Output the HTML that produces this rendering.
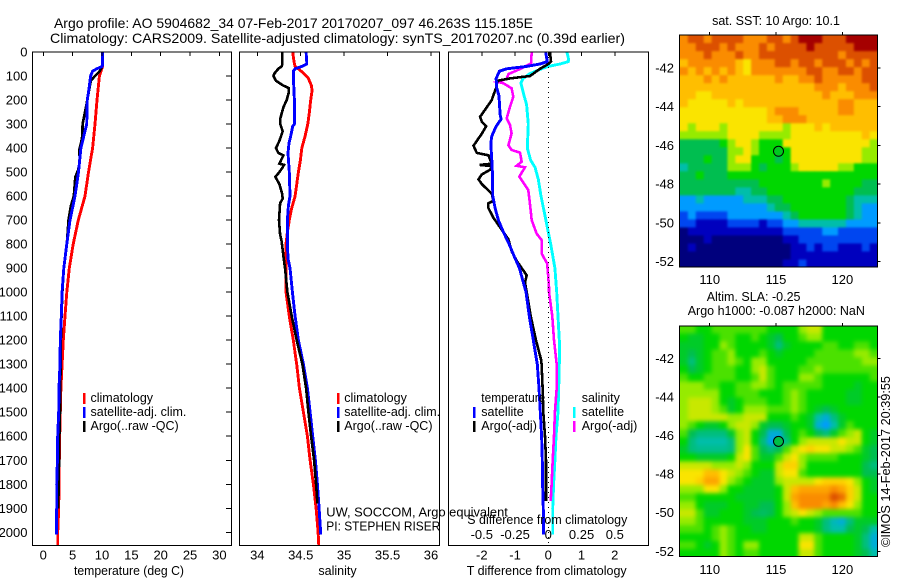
<!DOCTYPE html>
<html lang="en">
<head>
<meta charset="utf-8">
<title>Argo profile 5904682_34</title>
<style>
html,body{margin:0;padding:0;background:#fff;}
svg{display:block;}
text{font-family:"Liberation Sans",sans-serif;font-size:12.5px;fill:#000;}
.title{font-size:14px;}
.tick{font-size:13px;}
.leg{font-size:12.5px;}
</style>
</head>
<body>
<svg id="chart" xmlns="http://www.w3.org/2000/svg" width="900" height="580" viewBox="0 0 900 580">
  <defs>
    <clipPath id="clip-sst"><rect x="680" y="35" width="197.5" height="232"/></clipPath>
    <clipPath id="clip-sla"><rect x="680" y="326" width="197.5" height="230.5"/></clipPath>
    <filter id="soft-sst" filterUnits="userSpaceOnUse" x="650" y="5" width="250" height="290" color-interpolation-filters="sRGB"><feGaussianBlur stdDeviation="1.1"/></filter>
    <filter id="soft-sla" filterUnits="userSpaceOnUse" x="650" y="296" width="250" height="290" color-interpolation-filters="sRGB"><feGaussianBlur stdDeviation="2.2"/></filter>
  </defs>
  <text class="title" x="54" y="28" textLength="479" lengthAdjust="spacingAndGlyphs">Argo profile: AO 5904682_34 07-Feb-2017 20170207_097 46.263S 115.185E</text>
  <text class="title" x="50" y="43" textLength="575" lengthAdjust="spacingAndGlyphs">Climatology: CARS2009. Satellite-adjusted climatology: synTS_20170207.nc (0.39d earlier)</text>

  <g id="maps">
    <g clip-path="url(#clip-sst)"><g id="sst-cells" filter="url(#soft-sst)"></g></g>
    <g clip-path="url(#clip-sla)"><g id="sla-cells" filter="url(#soft-sla)"></g></g>
  </g>
  <g id="series"></g>
  <g id="frames"></g>

  <line x1="548.5" y1="52" x2="548.5" y2="545.5" stroke="#000" stroke-width="1" stroke-dasharray="1 4"/>

  <text x="129" y="575" text-anchor="middle" textLength="110" lengthAdjust="spacingAndGlyphs">temperature (deg C)</text>
  <text x="337.5" y="575" text-anchor="middle">salinity</text>
  <text x="546.7" y="575" text-anchor="middle" textLength="160" lengthAdjust="spacingAndGlyphs">T difference from climatology</text>
  <text x="467.3" y="524" textLength="160" lengthAdjust="spacingAndGlyphs">S difference from climatology</text>

  <g>
    <rect x="83" y="393" width="2.5" height="11" fill="#f00"/>
    <rect x="83" y="407" width="2.5" height="11" fill="#00f"/>
    <rect x="83" y="421" width="2.5" height="11" fill="#000"/>
    <text class="leg" x="90.5" y="402">climatology</text>
    <text class="leg" x="90.5" y="416">satellite-adj. clim.</text>
    <text class="leg" x="90.5" y="430">Argo(..raw -QC)</text>
  </g>
  <g>
    <rect x="337" y="393" width="2.5" height="11" fill="#f00"/>
    <rect x="337" y="407" width="2.5" height="11" fill="#00f"/>
    <rect x="337" y="421" width="2.5" height="11" fill="#000"/>
    <text class="leg" x="344.3" y="402">climatology</text>
    <text class="leg" x="344.3" y="416">satellite-adj. clim.</text>
    <text class="leg" x="344.3" y="430">Argo(..raw -QC)</text>
  </g>
  <g>
    <text class="leg" x="481.3" y="402" textLength="64" lengthAdjust="spacingAndGlyphs">temperature</text>
    <rect x="473" y="407" width="2.5" height="11" fill="#00f"/>
    <rect x="473" y="421" width="2.5" height="11" fill="#000"/>
    <text class="leg" x="481.3" y="416">satellite</text>
    <text class="leg" x="481.3" y="430">Argo(-adj)</text>
    <text class="leg" x="581.7" y="402">salinity</text>
    <rect x="573" y="407" width="2.5" height="11" fill="#0ff"/>
    <rect x="573" y="421" width="2.5" height="11" fill="#f0f"/>
    <text class="leg" x="581.7" y="416">satellite</text>
    <text class="leg" x="581.7" y="430">Argo(-adj)</text>
  </g>
  <text class="leg" x="326.3" y="516.5" textLength="181.5" lengthAdjust="spacingAndGlyphs">UW, SOCCOM, Argo equivalent</text>
  <text class="leg" x="326.3" y="530.5" textLength="114" lengthAdjust="spacingAndGlyphs">PI: STEPHEN RISER</text>

  <text x="776" y="25" text-anchor="middle">sat. SST: 10 Argo: 10.1</text>
  <text x="706.7" y="301">Altim. SLA: -0.25</text>
  <text x="687.7" y="315">Argo h1000: -0.087 h2000: NaN</text>
  <text transform="translate(890,547) rotate(-90)" textLength="171" lengthAdjust="spacingAndGlyphs">©IMOS 14-Feb-2017 20:39:55</text>
</svg>

<script>
// ---------- profile data ----------
const depthTicks = [0,100,200,300,400,500,600,700,800,900,1000,1100,1200,1300,1400,1500,1600,1700,1800,1900,2000];
const tempTicks = [0,5,10,15,20,25,30];
const salTicks = [34,34.5,35,35.5,36];
const tDiffTicks = [-2,-1,0,1,2];
const sDiffTicks = [-0.5,-0.25,0,0.25,0.5];
const latTicks = [-42,-44,-46,-48,-50,-52];
const lonTicks = [110,115,120];

const tempClimDepth = [0,60,100,200,300,400,500,600,700,800,900,1000,1100,1200,1300,1400,1500,1600,1700,1800,1900,2000,2056];
const tempClim = [10.1,10.1,9.55,9.15,8.8,8.4,7.7,7.1,5.96,5.1,4.43,4.0,3.7,3.4,3.2,3.0,2.9,2.8,2.72,2.67,2.62,2.45,2.45];
const tempArgoDepth = [0,60,80,100,120,200,250,300,350,380,410,440,470,490,520,600,640,700,800,900,1000,1100,1200,1300,1400,1500,1600,1700,1800,1900];
const tempArgo = [10.1,10.05,9.6,8.8,8.1,7.5,7.1,6.7,6.65,6.4,6.1,6.2,6.1,5.95,5.45,5.2,4.7,4.3,4.0,3.5,3.25,3.1,3.0,2.95,2.9,2.85,2.75,2.7,2.6,2.55];
const tempSatDepth = [0,60,70,80,100,150,200,300,350,400,450,500,600,700,800,900,1000,1100,1200,1300,1400,1500,1600,1700,1800,1900,2010];
const tempSat = [10.1,10.05,9.1,8.4,8.05,7.8,7.5,7.4,6.9,6.4,6.2,6.0,5.4,4.55,4.0,3.5,3.2,3.07,2.9,2.85,2.67,2.62,2.45,2.4,2.28,2.28,2.25];

const salClimDepth = [0,40,60,70,90,110,140,160,200,250,300,350,400,450,500,600,650,700,750,800,900,1000,1100,1200,1300,1400,1500,1600,1700,1800,1900,2000,2056];
const salClim = [34.408,34.423,34.435,34.473,34.538,34.588,34.623,34.631,34.615,34.60,34.581,34.55,34.512,34.496,34.473,34.435,34.396,34.369,34.346,34.331,34.331,34.331,34.369,34.415,34.454,34.485,34.531,34.577,34.608,34.646,34.677,34.70,34.708];
const salSatDepth = [0,40,50,60,70,80,100,200,300,310,350,380,420,500,600,640,700,800,860,900,1000,1100,1200,1300,1400,1500,1600,1700,1800,1900,2010];
const salSat = [34.562,34.569,34.569,34.512,34.435,34.415,34.415,34.427,34.427,34.408,34.385,34.365,34.354,34.369,34.377,34.358,34.346,34.346,34.354,34.377,34.404,34.435,34.473,34.531,34.577,34.608,34.638,34.669,34.692,34.712,34.731];
const salArgoDepth = [0,50,60,70,90,100,120,140,150,170,200,230,280,300,330,370,400,420,430,465,470,480,500,520,550,590,610,630,700,760,790,850,900,1000,1100,1200,1300,1400,1500,1600,1700,1800,1880];
const salArgo = [34.288,34.288,34.281,34.242,34.196,34.185,34.215,34.30,34.362,34.362,34.338,34.30,34.262,34.265,34.292,34.254,34.215,34.242,34.30,34.254,34.308,34.292,34.254,34.208,34.254,34.285,34.292,34.262,34.25,34.262,34.281,34.30,34.319,34.346,34.396,34.454,34.519,34.562,34.588,34.619,34.654,34.677,34.692];

const tDiffSatDepth = [0,40,50,60,70,80,90,110,150,180,210,260,280,310,350,380,450,500,600,650,700,750,800,850,900,950,1000,1100,1200,1300,1400,1500,1600,1700,1800,1900,2010];
const tDiffSat = [-0.08,-0.03,-0.25,-0.65,-1.25,-1.47,-1.5,-1.57,-1.55,-1.49,-1.47,-1.45,-1.42,-1.57,-1.7,-1.73,-1.7,-1.68,-1.67,-1.6,-1.5,-1.35,-1.18,-1.03,-0.87,-0.77,-0.67,-0.57,-0.45,-0.33,-0.28,-0.24,-0.2,-0.18,-0.17,-0.15,-0.14];
const tDiffArgoDepth = [0,40,50,70,100,110,120,150,180,200,230,270,290,310,340,370,390,420,430,465,470,475,490,510,530,550,570,590,620,630,650,690,720,750,780,830,870,900,930,960,1000,1100,1200,1280,1300,1400,1500,1600,1700,1800,1870];
const tDiffArgo = [0.05,0.08,0,-0.25,-0.55,-1.15,-1.53,-1.57,-1.65,-1.7,-1.85,-2.05,-2.0,-1.87,-2.0,-2.15,-2.25,-2.15,-1.8,-1.7,-2.07,-1.7,-1.75,-2.0,-2.1,-2.0,-1.85,-1.7,-1.65,-1.8,-1.8,-1.65,-1.5,-1.35,-1.2,-1.1,-0.95,-0.8,-0.65,-0.7,-0.65,-0.53,-0.37,-0.22,-0.2,-0.17,-0.15,-0.1,-0.07,-0.07,-0.07];
const sDiffSatDepth = [0,30,40,50,60,70,90,110,130,170,220,300,400,450,480,530,600,700,800,900,1000,1100,1200,1300,1400,1500,1600,1700,1800,1900,2010];
const sDiffSat = [0.14,0.153,0.15,0.088,0,-0.05,-0.138,-0.188,-0.206,-0.188,-0.163,-0.15,-0.158,-0.133,-0.1,-0.075,-0.055,-0.018,0.018,0.05,0.063,0.073,0.083,0.083,0.078,0.073,0.058,0.05,0.04,0.033,0.033];
const sDiffArgoDepth = [0,47,68,92,112,124,130,151,186,228,276,304,339,388,408,419,457,474,480,519,575,631,700,756,783,839,881,978,1000,1100,1200,1300,1400,1500,1600,1700,1800,1870];
const sDiffArgo = [-0.125,-0.13,-0.2,-0.3,-0.313,-0.383,-0.338,-0.276,-0.263,-0.288,-0.313,-0.288,-0.276,-0.3,-0.276,-0.213,-0.2,-0.238,-0.175,-0.218,-0.15,-0.138,-0.125,-0.088,-0.05,-0.05,-0.008,0.005,0.005,0.03,0.043,0.063,0.063,0.05,0.043,0.033,0.025,0.018];

// ---------- map data (colour-level estimates) ----------
const sstLevels = [
[10,11,11,10,11,11,11,11,10,10,10,11,11,10,11,12,12,12,11,11,11,12,12,12,12],
[10,10,11,11,11,10,11,10,10,10,11,10,11,11,11,11,12,11,11,11,11,11,12,12,12],
[10,10,10,11,10,10,10,11,10,10,11,11,11,11,11,11,11,11,11,11,10,11,11,11,11],
[9,10,10,10,10,10,10,9,8,10,10,10,11,11,10,11,11,10,11,11,11,10,11,10,11],
[10,9,10,9,10,9,10,9,8,10,10,10,10,10,10,10,11,11,10,10,11,11,10,11,11],
[9,9,9,10,9,10,9,9,9,9,9,9,10,9,9,10,10,11,10,10,10,10,10,11,11],
[9,9,9,9,9,9,9,9,9,9,9,9,9,9,9,9,9,10,10,10,9,10,10,10,11],
[9,9,8,8,9,9,9,9,9,9,9,9,9,9,9,9,9,9,10,9,9,9,10,10,10],
[9,8,8,8,8,8,9,8,9,9,9,9,9,9,9,9,9,9,9,9,10,10,9,9,9],
[8,8,8,8,8,8,8,8,8,8,8,9,10,10,10,9,9,9,9,9,10,10,9,9,9],
[8,8,8,8,8,8,8,8,8,8,8,9,9,10,10,10,9,9,9,9,9,9,9,9,9],
[8,7,8,8,8,7,8,8,8,8,8,8,8,7,8,8,8,9,8,9,9,9,9,9,9],
[7,7,7,7,7,7,8,8,8,8,7,7,7,7,8,8,8,8,8,8,8,8,8,9,8],
[5,5,5,5,5,6,7,8,8,7,6,6,6,8,8,8,8,8,8,8,8,8,8,8,7],
[5,5,5,5,5,5,7,7,8,7,6,6,6,6,8,8,8,8,8,8,8,8,8,7,7],
[5,5,5,6,5,5,7,8,8,6,6,6,5,6,8,8,8,8,8,8,8,8,8,7,7],
[4,5,5,5,5,5,7,7,7,6,5,6,6,6,7,8,8,8,8,8,7,7,6,6,6],
[5,5,6,5,5,5,6,6,6,6,6,6,6,6,6,6,6,6,6,6,6,6,6,6,6],
[5,5,5,5,5,5,5,5,5,5,6,6,6,6,6,6,6,6,7,6,6,6,6,5,5],
[5,5,5,5,5,5,5,4,4,5,5,6,6,6,6,6,6,6,6,6,6,6,5,5,5],
[3,3,4,3,3,3,3,3,4,4,4,5,5,6,6,6,6,6,6,6,6,5,4,4,4],
[3,3,3,3,3,3,3,3,3,3,3,4,5,5,6,6,6,6,6,6,6,5,4,3,3],
[2,3,2,2,2,2,3,3,3,3,3,3,3,4,5,6,6,6,6,6,6,5,4,3,3],
[2,2,1,1,1,1,2,2,2,2,1,2,2,3,3,4,4,4,4,4,4,3,3,3,3],
[0,1,1,1,1,1,1,1,1,1,1,1,1,2,2,2,2,2,3,3,2,2,2,2,2],
[0,0,0,1,0,0,0,0,0,0,0,0,0,1,1,2,2,2,2,2,2,2,2,2,2],
[0,1,0,0,0,0,0,0,0,0,0,0,0,0,1,1,2,1,2,2,1,1,1,2,1],
[0,0,0,0,0,0,0,0,0,0,0,0,0,0,1,1,1,1,1,1,1,1,1,1,1],
[0,0,0,0,0,0,0,0,0,0,0,0,0,1,1,2,1,1,1,1,1,1,1,1,1]
];
const slaLevels = [
[6.5,6.5,6,6,6.5,6.5,6.5,6.5,6.5,6.5,6.5,6,6,6,6,7,7.5,7.5,6,6,6,6,6,6,6],
[6,5.5,5.5,6,6,6.5,6.5,6,6,6.5,6,5.5,5,6,6,6.5,7,7,6,6,6,6,6,6,6],
[5.5,5.5,5.5,6,6,7,6.5,6,6,6,6,5.5,4.5,5.5,6,6,6,6,6.5,6.5,6,6,6.5,6.5,6],
[5.5,5,5.5,6,6.5,6.5,7,6,6,6,6.5,6,5.5,6,6,6,6,6.5,6.5,6.5,6.5,6.5,7,7,6.5],
[5.5,4.5,5.5,6,6.5,6.5,7,6.5,6,7,7,6,6,6,6,6,6.5,6.5,6.5,6.5,6.5,6.5,6.5,7,7],
[6,5,5.5,6,6.5,6.5,6.5,6,6,7,7.5,6.5,6,6,6,6.5,6.5,7,6.5,6.5,6.5,6.5,6.5,6.5,6.5],
[6.5,6,6,6.5,6.5,6.5,6.5,6,6,6.5,7.5,6.5,6,6,6,7,7,6.5,6,6,6,6,6,6,6.5],
[7,7,7,6.5,6.5,6,6,6.5,6.5,7,7,6.5,6,6.5,6.5,6.5,6.5,6.5,6,6,6,6,5.5,6,6],
[7,7,7,7,7,6,6,6.5,6.5,6.5,6,6,6,6.5,7,6.5,6,6,6,6,6,5.5,5.5,6,6],
[7,7.5,7.5,7.5,7,6,5.5,6,6.5,6.5,6.5,6,6,6.5,7,6.5,6,6,6,6,6,5.5,5.5,6,6],
[7,7.5,7.5,7.5,7,6.5,5.5,6,7,7,7,6.5,6.5,6.5,7,6.5,6,5.5,5,5.5,6,6,6,6,6],
[7,7.5,7.5,7.5,7.5,7.5,7,7,7.5,7.5,7.5,6,6,6,6.5,6,5.5,4,3.5,4.5,5.5,6,6,6,6],
[7,6.5,6,5.5,5.5,6,7,7.5,7.5,7,5.5,5,5,5.5,6,6,5.5,3.5,3,4,5.5,6.5,6,6,6],
[6.5,5,4.5,4.5,4.5,4.5,5.5,7,7.5,6,5,3.5,3.5,5,6,6.5,6,5,4.5,5.5,6.5,7,7.5,6,5.5],
[6,4.5,4,4,4,4,4.5,7,7.5,6,4.5,3.2,3.2,4.5,6,7,7.5,7.5,7.5,7.5,8,7.5,7.5,6,5.5],
[5.5,4.5,4.3,4.3,4.3,4.3,4.5,7,8,6.5,5,4.5,5,6.5,7.5,8,8.5,8,8,7.5,7.5,7,6.5,5.5,5],
[6,6,5.5,5.5,5.5,5.5,6,7.5,8,6.5,5.5,5.5,6.5,7.5,8,7,6.5,6.5,6.5,6.5,6,6,6,5.5,5],
[7.5,7.5,7.5,7.5,7,7,7,7.5,7,6,6,6,7.5,8.5,8.5,7,6,6,6,6,6,6,6,5,4.5],
[8,8,8,9,9,8,7.5,7,6.5,6,5.5,5.5,7.5,8,8,6.5,6,6,6,6,6,6,6,5,5],
[8,8,8.5,9.5,9.5,8,7,6.5,6,5.5,5.5,5.5,7,7.5,7.5,7.5,7.5,8,8.5,8.5,8.5,8,7,6,5.5],
[7,7,7,8,8,7,6,6,5.5,5.5,5.5,5.5,6,7.5,9,9.5,9.5,9.5,9.5,10,9.5,8.5,7.5,6,5.5],
[6.5,6.5,6,6,6,6,6,5.5,5.5,5.5,5.5,5.5,6,7.5,9.5,10,10,10,10,11,10.5,8.5,7.5,6,6],
[7,7,6,5.5,5.5,5.5,6,6,5.5,5.5,5,5,6,7,9,10,10,10,9.5,10,9,8,7,6,6],
[7.5,7.5,6.5,5.5,5.5,6,6,6,5.5,5,4.8,5,6,7,7.5,8,7.5,7,6.5,6.5,6.5,6.5,6.5,6,6],
[7,7,6.5,6,6,6,6,6,5.5,5.5,5.5,6,6,6,6.5,6,6,5.5,4.5,3.8,3.5,4.5,5.5,5.5,5.5],
[6.5,6.5,6.5,6,6.5,7,6.5,6,6,5.5,5.5,6,6,6,6,6,6,5.5,4.5,4,4,5,5.5,5,4],
[6,6,6,6,6.5,7,6.5,6,6,6,6,6,6,6,6,7.5,7.5,6.5,6,6,6,6,5.5,4.5,3.5],
[6.5,6.5,6,5.5,6,7,6.5,6,7,7,6,6,6,6,6,8,8,6.5,6,6,6,6,5.5,4.5,3.5],
[6,6,6,6,6,7,6.5,6,6.5,6.5,6,6,6,6,6,7.5,7.5,6.5,6,6,6,6,5.5,5,4]
];
const floatLon = 115.185;
const floatLat = -46.263;

// ---------- axis functions ----------
const NS = 'http://www.w3.org/2000/svg';
const yDepth = d => 52 + d * 0.24015;
const xTemp = t => 43.3 + t * 5.87;
const xSal = s => 257.3 + (s - 34) * 86.85;
const xTDiff = t => 548.3 + t * 33.25;
const xSDiff = s => 548.3 + s * 133;
const xLon = lon => 709.7 + (lon - 110) * 13.27;
const ySstLat = lat => 68 - (lat + 42) * 19.37;
const ySlaLat = lat => 358.3 - (lat + 42) * 19.3;

// colour ramp stops for map levels 0..12
const ramp = [[0,0,125],[0,0,190],[0,70,240],[0,155,255],[0,190,170],[0,190,80],[0,215,0],[150,235,0],[250,228,0],[255,190,0],[250,140,0],[220,80,0],[165,0,0]];
function levelColor(v) {
  const i = Math.max(0, Math.min(11, Math.floor(v)));
  const f = Math.max(0, Math.min(1, v - i));
  const c = ramp[i].map((a, k) => Math.round(a + (ramp[i + 1][k] - a) * f));
  return 'rgb(' + c.join(',') + ')';
}

function mk(tag, attrs, parent) {
  const el = document.createElementNS(NS, tag);
  for (const k in attrs) el.setAttribute(k, attrs[k]);
  parent.appendChild(el);
  return el;
}

const svg = document.getElementById('chart');
const seriesG = document.getElementById('series');
const framesG = document.getElementById('frames');

// ---------- heatmaps ----------
const lonMin = 107.76, lonMax = 122.65;
const edgeBleed = 14; // border cells run past the clip so softening stays opaque at the frame
function cellRect(parent, row, col, nRows, nCols, value, latTop, latBottom, yOf) {
  const dLon = (lonMax - lonMin) / nCols;
  const dLat = (latTop - latBottom) / nRows;
  const x0 = xLon(lonMin + col * dLon) - (col === 0 ? edgeBleed : 0);
  const x1 = xLon(lonMin + (col + 1) * dLon) + (col === nCols - 1 ? edgeBleed : 0.6);
  const y0 = yOf(latTop - row * dLat) - (row === 0 ? edgeBleed : 0);
  const y1 = yOf(latTop - (row + 1) * dLat) + (row === nRows - 1 ? edgeBleed : 0.6);
  return mk('rect', {x: x0, y: y0, width: x1 - x0, height: y1 - y0, fill: levelColor(value)}, parent);
}
const sstG = document.getElementById('sst-cells');
sstLevels.forEach((r, j) => r.forEach((v, i) => {
  const el = cellRect(sstG, j, i, sstLevels.length, r.length, v, -40.3, -52.3, ySstLat);
  
  
}));
const slaG = document.getElementById('sla-cells');
slaLevels.forEach((r, j) => r.forEach((v, i) => {
  const el = cellRect(slaG, j, i, slaLevels.length, r.length, v, -40.3, -52.3, ySlaLat);
  
  
}));

// ---------- profile lines ----------
function profile(depths, values, xFn, color, width) {
  const pts = depths.map((d, i) => xFn(values[i]).toFixed(1) + ',' + yDepth(d).toFixed(1)).join(' ');
  return mk('polyline', {points: pts, fill: 'none', stroke: color, 'stroke-width': width, 'stroke-linejoin': 'miter', 'shape-rendering': 'crispEdges'}, seriesG);
}
let ln;
ln = profile(tempClimDepth, tempClim, xTemp, '#f00', 2.9);


ln = profile(tempArgoDepth, tempArgo, xTemp, '#000', 2.6);


ln = profile(tempSatDepth, tempSat, xTemp, '#00f', 2.9);



ln = profile(salClimDepth, salClim, xSal, '#f00', 2.9);


ln = profile(salSatDepth, salSat, xSal, '#00f', 2.9);


ln = profile(salArgoDepth, salArgo, xSal, '#000', 2.6);



ln = profile(sDiffSatDepth, sDiffSat, xSDiff, '#0ff', 2.9);


ln = profile(sDiffArgoDepth, sDiffArgo, xSDiff, '#f0f', 2.6);


ln = profile(tDiffArgoDepth, tDiffArgo, xTDiff, '#000', 2.6);


ln = profile(tDiffSatDepth, tDiffSat, xTDiff, '#00f', 2.9);



// ---------- frames and ticks ----------
function frame(x0, y0, x1, y1) {
  return mk('rect', {x: x0, y: y0, width: x1 - x0, height: y1 - y0, fill: 'none', stroke: '#000', 'stroke-width': 1.2, 'shape-rendering': 'crispEdges'}, framesG);
}
function tick(x1, y1, x2, y2) {
  return mk('line', {x1, y1, x2, y2, stroke: '#000', 'stroke-width': 1, 'shape-rendering': 'crispEdges'}, framesG);
}
function label(txt, x, y, anchor) {
  const t = mk('text', {x, y, 'text-anchor': anchor, class: 'tick'}, framesG);
  t.textContent = txt;
  return t;
}
let el;
el = frame(32.5, 52, 231.5, 545.5);


el = frame(239.5, 52, 439.5, 545.5);


el = frame(448.5, 52, 648.5, 545.5);


el = frame(679.5, 35, 877.5, 267);


el = frame(679.5, 326, 877.5, 556.5);



depthTicks.forEach(d => {
  const m = tick(226, yDepth(d), 231, yDepth(d));
  
  
  const t = label(d, 27.5, yDepth(d) + 4.5, 'end');
  
  
});
tempTicks.forEach(v => {
  const m = tick(xTemp(v), 52, xTemp(v), 56);
  
  
  const t = label(v, xTemp(v), 559.5, 'middle');
  
  
});
salTicks.forEach(v => {
  const m = tick(xSal(v), 52, xSal(v), 56);
  
  
  const t = label(v, xSal(v), 559.5, 'middle');
  
  
});
tDiffTicks.forEach(v => {
  const m = tick(xTDiff(v), 52, xTDiff(v), 56);
  
  
  const t = label(v, xTDiff(v), 559.5, 'middle');
  
  
});
sDiffTicks.forEach(v => {
  const t = label(v, xSDiff(v), 539, 'middle');
  
  
});
lonTicks.forEach(v => {
  let m = tick(xLon(v), 32, xLon(v), 35);
  
  
  m = tick(xLon(v), 323, xLon(v), 326);
  
  
  let t = label(v, xLon(v), 284, 'middle');
  
  
  t = label(v, xLon(v), 574, 'middle');
  
  
});
latTicks.forEach(v => {
  let m = tick(877.5, ySstLat(v), 880.5, ySstLat(v));
  
  
  m = tick(877.5, ySlaLat(v), 880.5, ySlaLat(v));
  
  
  let t = label(v, 674, ySstLat(v) + 4.5, 'end');
  
  
  t = label(v, 674, ySlaLat(v) + 4.5, 'end');
  
  
});

// ---------- float position markers ----------
let mark = mk('circle', {cx: xLon(floatLon), cy: ySstLat(floatLat) + 0.7, r: 5, fill: 'rgb(0,200,30)', stroke: '#000', 'stroke-width': 1}, svg);


mark = mk('circle', {cx: xLon(floatLon), cy: ySlaLat(floatLat) + 0.8, r: 5, fill: 'rgb(0,190,70)', stroke: '#000', 'stroke-width': 1}, svg);


</script>
</body>
</html>
